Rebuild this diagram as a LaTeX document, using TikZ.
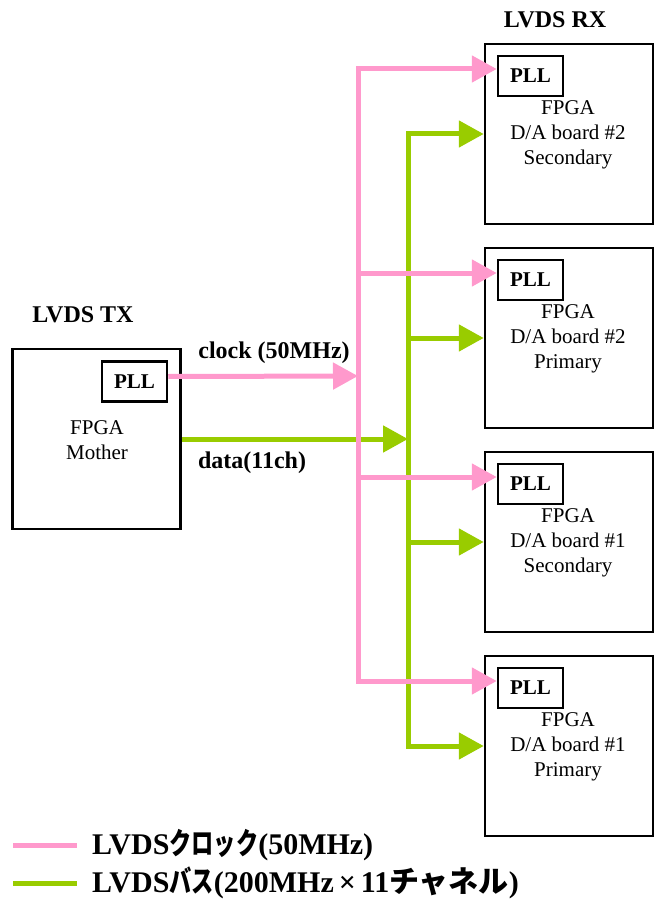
\documentclass[tikz,border=0pt]{standalone}
\usepackage{fontspec}
\setmainfont{Liberation Serif}
\newfontfamily\jpfont{Noto Sans CJK JP}
\newfontfamily\jpnarrowfont[FakeStretch=0.74]{Noto Sans CJK JP}
\usetikzlibrary{
  arrows.meta,
  positioning
}
\definecolor{clkpink}{RGB}{255,153,204}
\definecolor{buslime}{RGB}{153,204,0}
\newcommand{\jp}[1]{{\jpfont\bfseries #1}}
\newcommand{\jpn}[1]{{\jpnarrowfont\bfseries #1}}

\begin{document}
\begin{tikzpicture}[x=1pt, y=-1pt,
  board/.style={draw, line width=2.5pt, minimum width=168pt, minimum height=180pt},
  pll/.style={draw, line width=2.5pt, minimum width=65pt, minimum height=40pt, inner sep=0pt,
              font=\fontsize{21}{25}\selectfont\bfseries},
  desc/.style={align=center, font=\fontsize{21}{25}\selectfont},
  heading/.style={font=\fontsize{24}{28}\selectfont\bfseries},
  key/.style={font=\fontsize{30}{34}\selectfont\bfseries, inner sep=0pt},
  clk/.style={draw=clkpink, line width=5pt},
  bus/.style={draw=buslime, line width=5pt},
  arrowed/.style={-{Triangle[length=25pt,width=26pt]}}
]
  \useasboundingbox (0,0) rectangle (658,909);

  % Transmitter
  \node[board] (mother) at (96.5,439) {};
  \node[pll] (mpll) at (134.5,381.5) {PLL};
  \node[desc] (mtext) at (97,440.5) {FPGA\\Mother};
  \node[heading] (txlabel) at (83,315) {LVDS TX};

  % Receivers top to bottom
  \node[heading] (rxlabel) at (555,20) {LVDS RX};
  \foreach \i/\brd/\role in {0/2/Secondary, 1/2/Primary, 2/1/Secondary, 3/1/Primary} {
    \node[board] (rx\i) at (569,134+204*\i) {};
    \node[pll] (pll\i) at (530.5,76+204*\i) {PLL};
    \node[desc] (rxtext\i) at (568,135+204*\i) {FPGA\\D/A board \#\brd\\\role};
  }

  % Buses (data under clock)
  \coordinate (ckbus) at (358,376);
  \coordinate (dtbus) at (408,439);
  \draw[bus, arrowed] (mother.east) -- (dtbus);
  \foreach \i in {0,...,3} {
    \draw[bus, arrowed] (dtbus) |- (rx\i.west);
  }
  \draw[clk, arrowed] ([yshift=5pt]mpll.east) -- (ckbus);
  \foreach \i in {0,...,3} {
    \draw[clk, arrowed] (ckbus) |- ([yshift=7pt]pll\i.west);
  }
  \node[heading] (clklabel) at (274,353) {clock (50MHz)};
  \node[heading] (datalabel) at (252,463) {data(11ch)};

  % Legend
  \coordinate (ckkeyA) at (13,845);
  \coordinate (ckkeyB) at (77,845);
  \coordinate (buskeyA) at (13,883);
  \coordinate (buskeyB) at (77,883);
  \draw[clk] (ckkeyA) -- (ckkeyB);
  \draw[bus] (buskeyA) -- (buskeyB);
  \node[key, right=15pt of ckkeyB] (ckkey) {LVDS\jpn{クロック}(50MHz)};
  \node[key, right=15pt of buskeyB] (buskey) {LVDS\jpn{バス}(200MHz\,×\,11\jp{チャネル})};
\end{tikzpicture}
\end{document}
